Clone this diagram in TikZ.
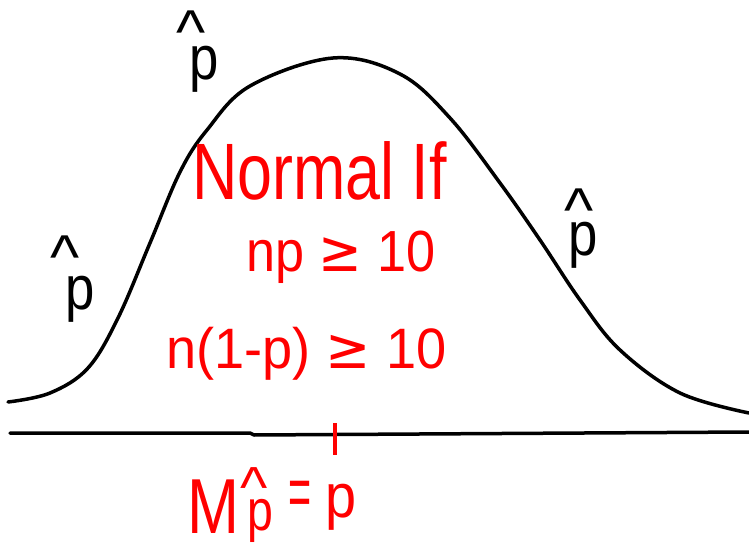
\documentclass[tikz,border=0pt]{standalone}
\usepackage{fontspec}
\setmainfont{Liberation Sans}
\newfontfamily\symfont{DejaVu Sans}
\newcommand\hatp[3]{\makebox[0pt][l]{\hspace{#1}\raisebox{#2}[0pt][0pt]{\textasciicircum}}\scalebox{#3}[1]{p}}
\begin{document}
\begin{tikzpicture}[x=1pt,y=-1pt,
  curve/.style={line width=3.5pt,line cap=round,line join=round},
  redtxt/.style={text=red,inner sep=0pt,anchor=base west},
  hatlbl/.style={text=black,inner sep=0pt,anchor=base west,font=\fontsize{62}{62}\selectfont}]
\useasboundingbox[fill=white] (0,0) rectangle (749,553);
% bell curve
\draw[curve] plot[smooth,tension=0.6] coordinates {(8,402) (50,393) (88,368) (118,318) (150,243) (180,172) (207,130) (250,86) (333,58) (400,74) (450,118) (500,183) (540,240) (580,300) (620,350) (680,393) (749,413)};
% axis
\coordinate (a0) at (10,433);
\coordinate (a1) at (250,433);
\coordinate (a2) at (254,435);
\coordinate (a3) at (749,432);
\draw[curve] (a0) -- (a1) -- (a2) -- (a3);
\coordinate (t0) at (335,423);
\coordinate (t1) at (335,455);
\draw[red,line width=3.5pt] (t0) -- (t1);
% red texts
\node[redtxt,font=\fontsize{80}{80}\selectfont] (normal) at (192,200) {\scalebox{0.785}[1]{Normal If}};
\node[redtxt,font=\fontsize{58}{58}\selectfont] (np) at (246,271) {\scalebox{0.9}[1]{np {\symfont≥} 10}};
\node[redtxt,font=\fontsize{57}{57}\selectfont] (nqp) at (166,368) {\scalebox{0.95}[1]{n(1-p) {\symfont≥} 10}};
\node[redtxt,font=\fontsize{78}{78}\selectfont] (mu) at (187,533) {\scalebox{0.8}[1]{M}};
\node[redtxt,font=\fontsize{58}{58}\selectfont] (phr) at (247,530) {\hatp{-7pt}{23pt}{0.8}};
\node[redtxt,font=\fontsize{72}{72}\selectfont,anchor=center] (eq) at (300,499) {\scalebox{0.55}[1]{=}};
\node[redtxt,font=\fontsize{62}{62}\selectfont] (pr) at (325,517) {\scalebox{0.9}[1]{p}};
% black p-hats
\node[hatlbl] (ph1) at (189,80) {\hatp{-13pt}{26pt}{0.85}};
\node[hatlbl] (ph2) at (65,309) {\hatp{-15pt}{31pt}{0.85}};
\node[hatlbl] (ph3) at (568,255) {\hatp{-4pt}{24pt}{0.85}};
\end{tikzpicture}
\end{document}
